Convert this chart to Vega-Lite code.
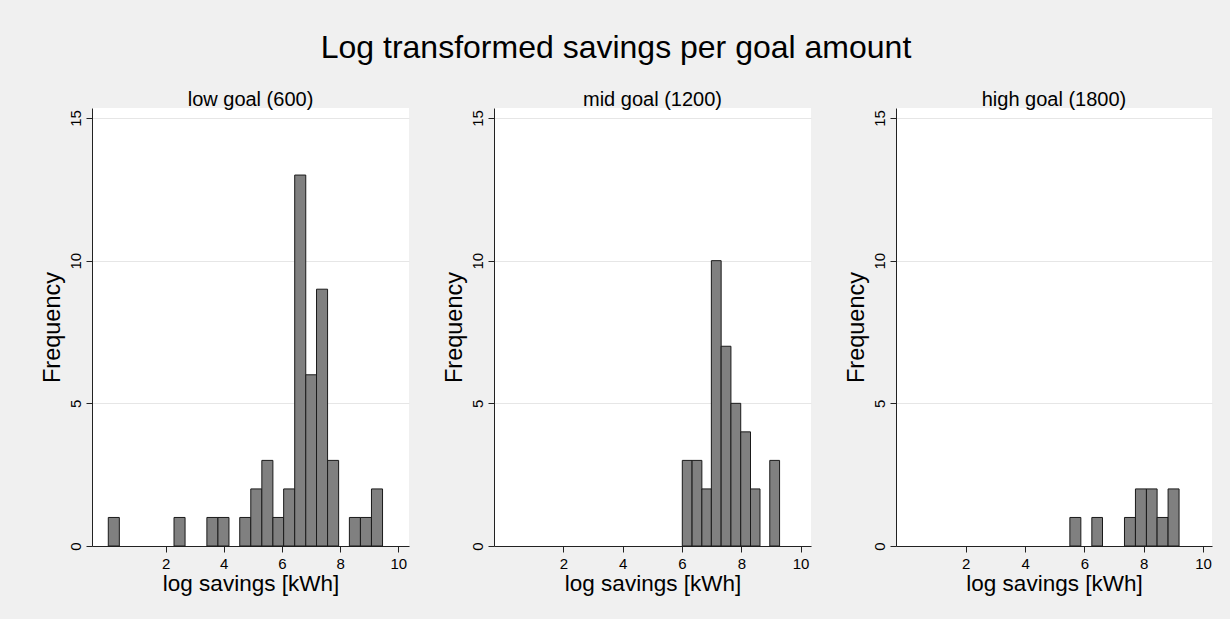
{
  "$schema": "https://vega.github.io/schema/vega-lite/v6.json",
  "background": "#f0f0f0",
  "padding": {"left": 40, "top": 32, "right": 18, "bottom": 24},
  "title": {"text": "Log transformed savings per goal amount", "fontSize": 32, "fontWeight": "normal", "color": "#000000", "font": "Liberation Sans", "anchor": "middle", "offset": 25, "dx": -10},
  "data": {"values": [
    {"goal": "low", "start": 0.03, "end": 0.41, "count": 1},
    {"goal": "low", "start": 2.29, "end": 2.67, "count": 1},
    {"goal": "low", "start": 3.42, "end": 3.80, "count": 1},
    {"goal": "low", "start": 3.80, "end": 4.18, "count": 1},
    {"goal": "low", "start": 4.55, "end": 4.93, "count": 1},
    {"goal": "low", "start": 4.93, "end": 5.31, "count": 2},
    {"goal": "low", "start": 5.31, "end": 5.69, "count": 3},
    {"goal": "low", "start": 5.69, "end": 6.06, "count": 1},
    {"goal": "low", "start": 6.06, "end": 6.44, "count": 2},
    {"goal": "low", "start": 6.44, "end": 6.82, "count": 13},
    {"goal": "low", "start": 6.82, "end": 7.19, "count": 6},
    {"goal": "low", "start": 7.19, "end": 7.57, "count": 9},
    {"goal": "low", "start": 7.57, "end": 7.95, "count": 3},
    {"goal": "low", "start": 8.32, "end": 8.70, "count": 1},
    {"goal": "low", "start": 8.70, "end": 9.08, "count": 1},
    {"goal": "low", "start": 9.08, "end": 9.46, "count": 2},
    {"goal": "mid", "start": 6.01, "end": 6.34, "count": 3},
    {"goal": "mid", "start": 6.34, "end": 6.67, "count": 3},
    {"goal": "mid", "start": 6.67, "end": 6.99, "count": 2},
    {"goal": "mid", "start": 6.99, "end": 7.32, "count": 10},
    {"goal": "mid", "start": 7.32, "end": 7.65, "count": 7},
    {"goal": "mid", "start": 7.65, "end": 7.98, "count": 5},
    {"goal": "mid", "start": 7.98, "end": 8.31, "count": 4},
    {"goal": "mid", "start": 8.31, "end": 8.63, "count": 2},
    {"goal": "mid", "start": 8.96, "end": 9.29, "count": 3},
    {"goal": "high", "start": 5.51, "end": 5.88, "count": 1},
    {"goal": "high", "start": 6.25, "end": 6.61, "count": 1},
    {"goal": "high", "start": 7.35, "end": 7.72, "count": 1},
    {"goal": "high", "start": 7.72, "end": 8.09, "count": 2},
    {"goal": "high", "start": 8.09, "end": 8.45, "count": 2},
    {"goal": "high", "start": 8.45, "end": 8.82, "count": 1},
    {"goal": "high", "start": 8.82, "end": 9.19, "count": 2}
  ]},
  "spacing": 85,
  "bounds": "flush",
  "hconcat": [
    {
      "width": 317, "height": 438,
      "title": "low goal (600)",
      "transform": [{"filter": "datum.goal == 'low'"}],
      "mark": {"type": "bar", "fill": "#808080", "stroke": "#1a1a1a", "strokeWidth": 1},
      "encoding": {
        "x": {"field": "start", "type": "quantitative", "scale": {"domain": [-0.53, 10.37], "nice": false, "zero": false}, "axis": {"values": [2, 4, 6, 8, 10]}, "title": "log savings [kWh]"},
        "x2": {"field": "end"},
        "y": {"field": "count", "type": "quantitative", "scale": {"domain": [0, 15.35], "nice": false}, "axis": {"values": [0, 5, 10, 15]}, "title": "Frequency"},
        "y2": {"datum": 0}
      }
    },
    {
      "width": 317, "height": 438,
      "title": "mid goal (1200)",
      "transform": [{"filter": "datum.goal == 'mid'"}],
      "mark": {"type": "bar", "fill": "#808080", "stroke": "#1a1a1a", "strokeWidth": 1},
      "encoding": {
        "x": {"field": "start", "type": "quantitative", "scale": {"domain": [-0.34, 10.35], "nice": false, "zero": false}, "axis": {"values": [2, 4, 6, 8, 10]}, "title": "log savings [kWh]"},
        "x2": {"field": "end"},
        "y": {"field": "count", "type": "quantitative", "scale": {"domain": [0, 15.35], "nice": false}, "axis": {"values": [0, 5, 10, 15]}, "title": "Frequency"},
        "y2": {"datum": 0}
      }
    },
    {
      "width": 316, "height": 438,
      "title": "high goal (1800)",
      "transform": [{"filter": "datum.goal == 'high'"}],
      "mark": {"type": "bar", "fill": "#808080", "stroke": "#1a1a1a", "strokeWidth": 1},
      "encoding": {
        "x": {"field": "start", "type": "quantitative", "scale": {"domain": [-0.35, 10.30], "nice": false, "zero": false}, "axis": {"values": [2, 4, 6, 8, 10]}, "title": "log savings [kWh]"},
        "x2": {"field": "end"},
        "y": {"field": "count", "type": "quantitative", "scale": {"domain": [0, 15.35], "nice": false}, "axis": {"values": [0, 5, 10, 15]}, "title": "Frequency"},
        "y2": {"datum": 0}
      }
    }
  ],
  "config": {
    "font": "Liberation Sans",
    "view": {"fill": "#ffffff", "stroke": null},
    "title": {"fontSize": 20, "fontWeight": "normal", "color": "#000000", "offset": -2, "font": "Liberation Sans"},
    "axisX": {"grid": false, "domainColor": "#222222", "tickColor": "#222222", "tickSize": 6, "labelFontSize": 15, "labelColor": "#000000", "labelPadding": 4, "titleFontSize": 22.5, "titleFontWeight": "normal", "titleColor": "#000000", "titlePadding": 1},
    "axisY": {"grid": true, "gridColor": "#e6e6e6", "gridWidth": 1, "domainColor": "#222222", "tickColor": "#222222", "tickSize": 6, "labelFontSize": 15, "labelColor": "#000000", "labelAngle": 270, "labelPadding": 3, "titleFontSize": 23.5, "titleFontWeight": "normal", "titleColor": "#000000", "titlePadding": 4}
  }
}
